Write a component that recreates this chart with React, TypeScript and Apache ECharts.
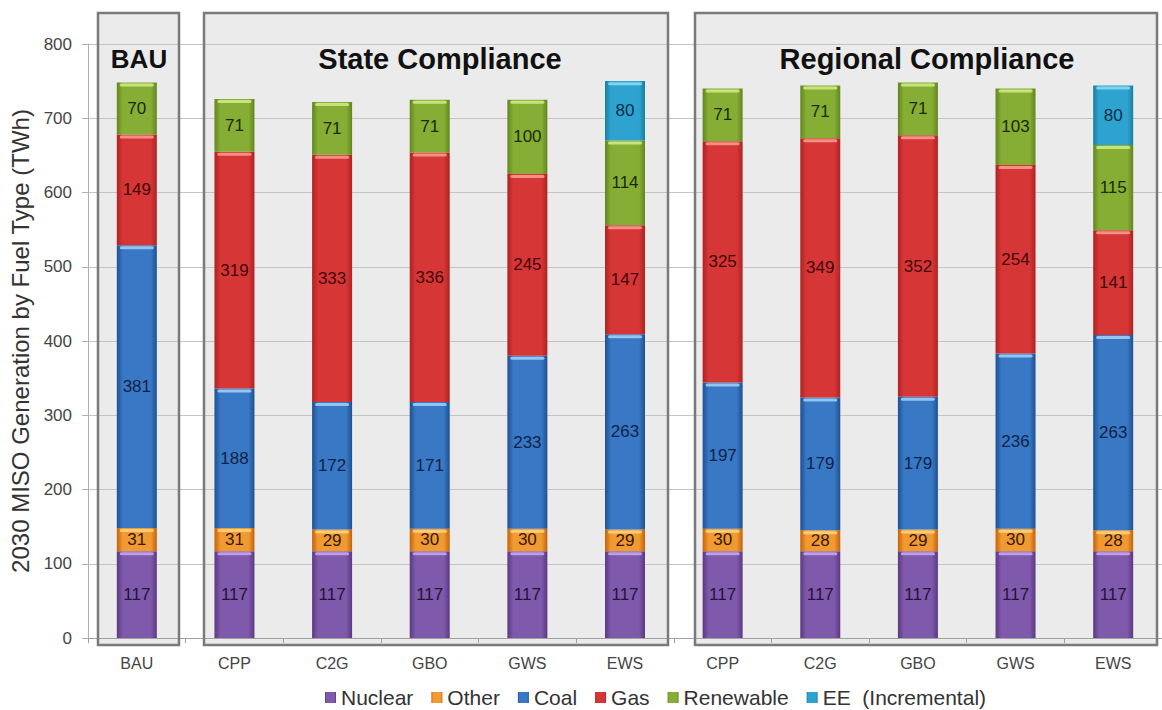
import React, { useEffect, useRef } from "react";
import * as echarts from "echarts";

// Scenario categories (BAU, then State Compliance x5, then Regional Compliance x5)
const categories = ["BAU", "CPP", "C2G", "GBO", "GWS", "EWS", "CPP", "C2G", "GBO", "GWS", "EWS"];

// 2030 generation by fuel type, TWh
const nuclear = [117, 117, 117, 117, 117, 117, 117, 117, 117, 117, 117];
const other = [31, 31, 29, 30, 30, 29, 30, 28, 29, 30, 28];
const coal = [381, 188, 172, 171, 233, 263, 197, 179, 179, 236, 263];
const gas = [149, 319, 333, 336, 245, 147, 325, 349, 352, 254, 141];
const renewable = [70, 71, 71, 71, 100, 114, 71, 71, 71, 103, 115];
const eeIncremental = [null, null, null, null, null, 80, null, null, null, null, 80];

const yTicks = { min: 0, max: 800, interval: 100 };

const FONT = "'Liberation Sans', Arial, sans-serif";

type Fuel = {
  name: string;
  data: (number | null)[];
  edge: string;
  mid: string;
  hi: string;
  label: string;
};

const fuels: Fuel[] = [
  { name: "Nuclear", data: nuclear, edge: "#5a3982", mid: "#7f59ab", hi: "#c3a4ec", label: "#241438" },
  { name: "Other", data: other, edge: "#c4620a", mid: "#f29a32", hi: "#ffd27a", label: "#331800" },
  { name: "Coal", data: coal, edge: "#1e5092", mid: "#3878c4", hi: "#9ccdf6", label: "#10234a" },
  { name: "Gas", data: gas, edge: "#b02222", mid: "#d63636", hi: "#f59a8e", label: "#420808" },
  { name: "Renewable", data: renewable, edge: "#62861e", mid: "#87ae34", hi: "#cdea86", label: "#182a04" },
  { name: "EE  (Incremental)", data: eeIncremental, edge: "#18809f", mid: "#2fa3cf", hi: "#8ad8f2", label: "#0c2e48" },
];

// Top of every stacked segment: [category index, cumulative value, fuel index]
const segmentTops: number[][] = [];
categories.forEach((_, i) => {
  let acc = 0;
  fuels.forEach((f, k) => {
    const v = f.data[i];
    if (v == null) return;
    acc += v;
    segmentTops.push([i, acc, k]);
  });
});

export default function App() {
  const ref = useRef<HTMLDivElement>(null);

  useEffect(() => {
    if (!ref.current) return;
    const chart = echarts.init(ref.current, null, { renderer: "svg" });

    const barSeries = fuels.map((f) => ({
      name: f.name,
      type: "bar",
      stack: "total",
      barWidth: 40,
      data: f.data,
      itemStyle: {
        color: new echarts.graphic.LinearGradient(0, 0, 1, 0, [
          { offset: 0, color: f.edge },
          { offset: 0.15, color: f.mid },
          { offset: 0.85, color: f.mid },
          { offset: 1, color: f.edge },
        ]),
      },
      label: {
        show: true,
        position: "inside",
        color: f.label,
        fontFamily: FONT,
        fontSize: 17,
      },
    }));

    // Thin light band along the top edge of each segment
    const highlightSeries = {
      type: "custom",
      silent: true,
      z: 5,
      encode: { x: 0, y: 1 },
      data: segmentTops,
      renderItem: (_params: any, api: any) => {
        const p = api.coord([api.value(0), api.value(1)]);
        const k = api.value(2);
        return {
          type: "rect",
          shape: { x: p[0] - 17, y: p[1] + 1, width: 34, height: 3, r: 1.5 },
          style: { fill: fuels[k].hi, opacity: 0.9 },
        };
      },
    };

    // Panel frames drawn behind the bars
    const panels = [
      { x: 98, w: 81 },
      { x: 204, w: 464 },
      { x: 695, w: 462 },
    ];
    const top = 13;
    const bottom = 645;
    const frames: any[] = [];
    panels.forEach((p) => {
      frames.push({
        type: "rect",
        z: -10,
        shape: { x: p.x, y: top, width: p.w, height: bottom - top },
        style: { fill: "#ebebeb", stroke: "none" },
      });
    });
    panels.forEach((p) => {
      frames.push({
        type: "rect",
        z: 50,
        shape: { x: p.x, y: top, width: p.w, height: bottom - top },
        style: { fill: "none", stroke: "#7a7a7a", lineWidth: 2.5 },
      });
    });

    const titles = [
      { text: "BAU", x: 139, size: 26 },
      { text: "State Compliance", x: 440, size: 29 },
      { text: "Regional Compliance", x: 927, size: 29 },
    ].map((t) => ({
      type: "text",
      z: 60,
      x: t.x,
      y: 59,
      style: {
        text: t.text,
        fill: "#111111",
        font: `bold ${t.size}px ${FONT}`,
        align: "center",
        verticalAlign: "middle",
      },
    }));

    chart.setOption({
      animation: false,
      backgroundColor: "#ffffff",
      textStyle: { fontFamily: FONT },
      grid: { left: 88, right: -11, top: 44, bottom: 72, containLabel: false },
      legend: {
        left: 320,
        top: 682,
        itemWidth: 11,
        itemHeight: 11,
        itemGap: 18,
        icon: "rect",
        textStyle: { fontSize: 21, color: "#333333", fontFamily: FONT },
        data: fuels.map((f) => f.name),
      },
      xAxis: {
        type: "category",
        data: categories,
        axisLine: { show: true, lineStyle: { color: "#a0a0a0" } },
        axisTick: { show: true, length: 5, lineStyle: { color: "#a0a0a0" } },
        axisLabel: { color: "#444444", fontSize: 16, margin: 17, fontFamily: FONT },
      },
      yAxis: {
        type: "value",
        min: yTicks.min,
        max: yTicks.max,
        interval: yTicks.interval,
        name: "2030 MISO Generation by Fuel Type (TWh)",
        nameLocation: "middle",
        nameGap: 55,
        nameTextStyle: { fontSize: 24, color: "#333333", fontFamily: FONT },
        axisLine: { show: true, lineStyle: { color: "#b0b0b0" } },
        axisTick: { show: true, length: 6, lineStyle: { color: "#b0b0b0" } },
        axisLabel: { color: "#444444", fontSize: 17, margin: 16, fontFamily: FONT },
        splitLine: { show: true, lineStyle: { color: "#c4c4c4", width: 1 } },
      },
      graphic: [...frames, ...titles],
      series: [...barSeries, highlightSeries],
    });

    return () => chart.dispose();
  }, []);

  return (
    <div
      ref={ref}
      style={{ position: "fixed", left: 0, top: 0, width: 1162, height: 710, background: "#fff" }}
    />
  );
}
